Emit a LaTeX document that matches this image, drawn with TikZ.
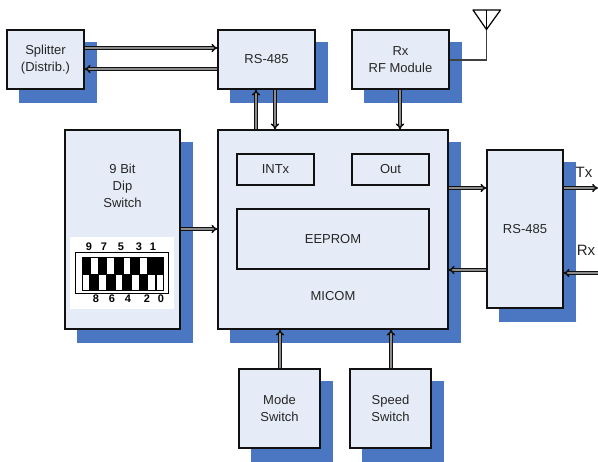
\documentclass[tikz,border=0pt]{standalone}
\usepackage{fontspec}
\setmainfont{Liberation Sans}
\usetikzlibrary{arrows.meta}
\definecolor{boxfill}{HTML}{E6ECF7}
\definecolor{shade}{HTML}{4A76C2}
\definecolor{ink}{HTML}{111111}
\tikzset{
  shadowbox/.style={fill=shade,draw=none},
  blockbox/.style={draw=ink,line width=1.25pt,fill=boxfill,align=center,font=\fontsize{13}{16.5}\selectfont,text=black!85,inner sep=0pt},
  bus/.style={draw=ink,line width=1.5pt,double=black!45,double distance=1.1pt,-{Implies[length=4pt,width=8pt]}},
  wire/.style={draw=ink!80,line width=1.1pt},
  dipnum/.style={font=\bfseries\fontsize{11}{12}\selectfont,inner sep=0pt},
  sidelabel/.style={font=\fontsize{15}{17}\selectfont,inner sep=0pt,text=black!85}
}
\newcommand{\blk}[6]{% name, x0, y0, x1, y1, text
  \fill[shadowbox] (#2+12,#3+12) rectangle (#4+13,#5+14);
  \node[blockbox,minimum width=#4pt-#2pt,minimum height=#5pt-#3pt] (#1) at ({(#2+#4)/2},{(#3+#5)/2}) {#6};
}
\begin{document}
\begin{tikzpicture}[x=1pt,y=-1pt]
\useasboundingbox (0,0) rectangle (598,462);
\blk{split}{7}{30}{84}{89}{\raisebox{-1pt}{Splitter}\\\raisebox{-1pt}{(Distrib.)}}
\blk{rstop}{218}{30}{315}{89}{RS-485}
\blk{rxrf}{352}{30}{449}{89}{\raisebox{-1pt}{Rx}\\\raisebox{-1pt}{RF Module}}
\blk{dip}{65}{130}{180}{329}{}
\blk{micom}{218}{130}{448}{329}{}
\blk{rsright}{487}{150}{563}{308}{RS-485}
\blk{mode}{239}{369}{320}{448}{\raisebox{-1pt}{Mode}\\\raisebox{-1pt}{Switch}}
\blk{speed}{350}{369}{431}{448}{\raisebox{-1pt}{Speed}\\\raisebox{-1pt}{Switch}}
\node[blockbox,minimum width=77pt,minimum height=31pt] (intx) at (275.5,169.5) {INTx};
\node[blockbox,minimum width=77pt,minimum height=31pt] (out) at (390.5,169.5) {Out};
\node[blockbox,minimum width=192pt,minimum height=60pt] (eeprom) at (333,239) {EEPROM};
\node[inner sep=0pt,font=\fontsize{13}{16.5}\selectfont,text=black!85] (micomlabel) at (333,296) {MICOM};
\node[align=center,inner sep=0pt,font=\fontsize{13}{17}\selectfont,text=black!85] (diplabel) at (122.5,186) {9 Bit\\Dip\\Switch};
% DIP switch
\fill[white] (70,237) rectangle (174,309);
\draw[black,line width=1.3pt] (75.5,252.5) rectangle (168.5,293.5);
\fill[black] (82,257) rectangle (164,291);
\foreach \c/\t in {0/1,1/0,2/1,3/0,4/1,5/0,6/1,7/0,8/1,9/1}{
  \pgfmathsetmacro{\xa}{82+8.2*\c+0.8}
  \pgfmathsetmacro{\xb}{\xa+6.6}
  \ifnum\t=1
    \fill[white] (\xa,275) rectangle (\xb,290);
  \else
    \fill[white] (\xa,258) rectangle (\xb,274);
  \fi
}
\foreach \n/\x in {9/89,7/104,5/121,3/139,1/153}{\node[dipnum] (dt\n) at (\x,247) {\n};}
\foreach \n/\x in {8/96,6/112,4/128,2/147,0/161}{\node[dipnum] (db\n) at (\x,299) {\n};}
% buses
\coordinate (txend) at (598,188);
\coordinate (rxend) at (598,273);
\draw[bus] (split.east |- 0,48) -- (rstop.west |- 0,48);
\draw[bus] (rstop.west |- 0,69) -- (split.east |- 0,69);
\draw[bus] (micom.north -| 256,0) -- (rstop.south -| 256,0);
\draw[bus] (rstop.south -| 275,0) -- (micom.north -| 275,0);
\draw[bus] (rxrf.south -| 400,0) -- (micom.north -| 400,0);
\draw[bus] (dip.east |- 0,229) -- (micom.west |- 0,229);
\draw[bus] (micom.east |- 0,188) -- (rsright.west |- 0,188);
\draw[bus] (rsright.west |- 0,270) -- (micom.east |- 0,270);
\draw[bus] (rsright.east |- txend) -- (txend);
\draw[bus] (rxend) -- (rsright.east |- rxend);
\draw[bus] (mode.north -| 280,0) -- (micom.south -| 280,0);
\draw[bus] (speed.north -| 391,0) -- (micom.south -| 391,0);
% antenna
\coordinate (anttop) at (486.5,10);
\coordinate (antbot) at (486.5,29.5);
\draw[wire] (rxrf.east |- 0,60) -| (antbot);
\draw[black,line width=1.2pt,line join=round] (473,10) -- (500.5,10) -- (antbot) -- cycle;
\draw[black,line width=1.2pt] (anttop) -- (antbot);
\node[sidelabel] (tx) at (584,172) {Tx};
\node[sidelabel] (rx) at (586,250) {Rx};
\end{tikzpicture}
\end{document}
